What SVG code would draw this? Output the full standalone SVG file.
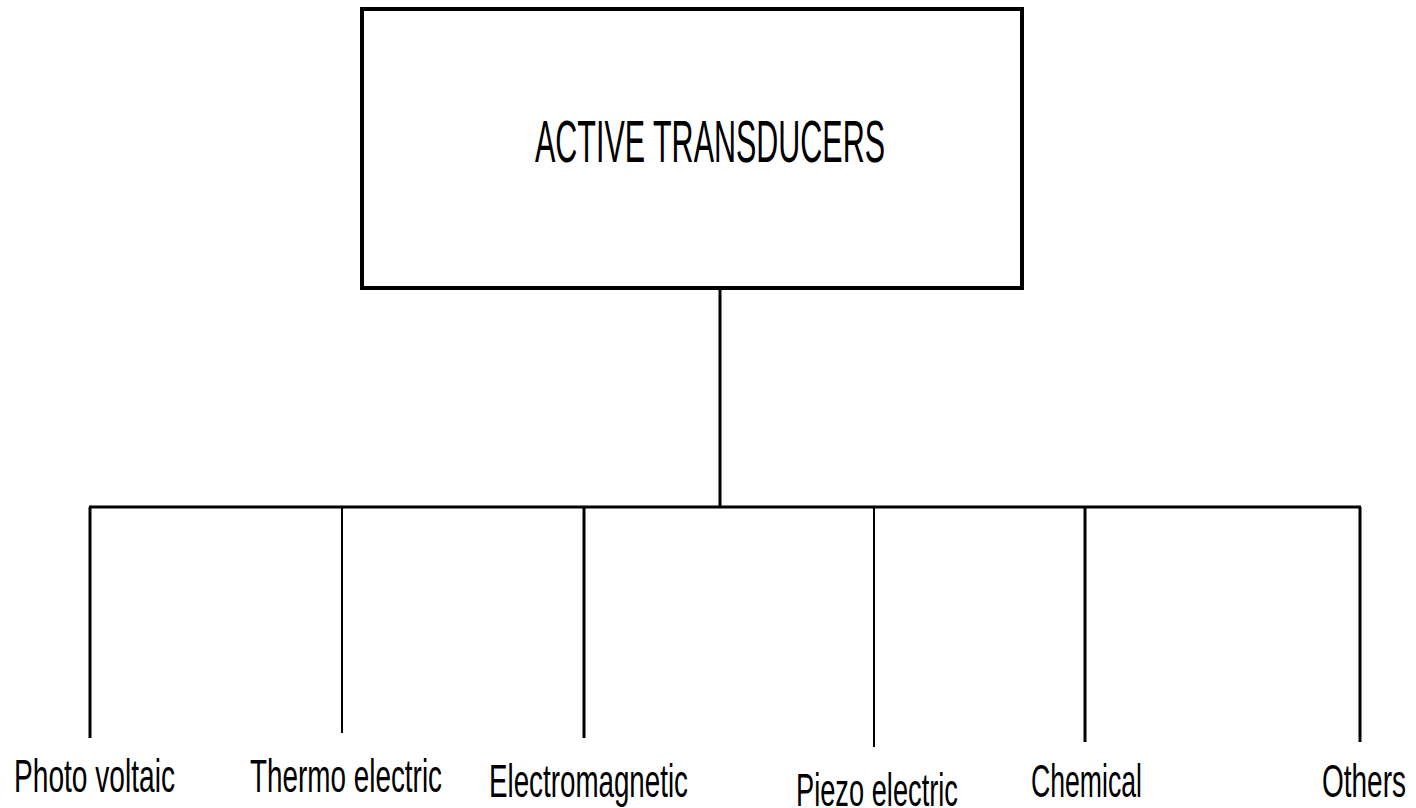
<svg xmlns="http://www.w3.org/2000/svg" width="1416" height="808" viewBox="0 0 1416 808">
<style>
  .box { fill: #ffffff; stroke: #000000; stroke-width: 4; }
  .ln { stroke: #000000; stroke-width: 3; fill: none; }
  .thin { stroke: #000000; stroke-width: 2; fill: none; }
  .t { font-family: "Liberation Sans", Arial, sans-serif; fill: #000000; }
  .title { font-size: 60px; }
  .lbl { font-size: 46px; }
</style>
<rect width="1416" height="808" fill="#ffffff"/>
<g id="connectors">
  <line class="ln" x1="720" y1="288" x2="720" y2="507"/>
  <line class="ln" x1="89" y1="507" x2="1361" y2="507"/>
  <line class="ln" x1="90" y1="507" x2="90" y2="738"/>
  <line class="thin" x1="342" y1="507" x2="342" y2="733"/>
  <line class="ln" x1="584" y1="507" x2="584" y2="738"/>
  <line class="thin" x1="874" y1="507" x2="874" y2="747"/>
  <line class="ln" x1="1085" y1="507" x2="1085" y2="742"/>
  <line class="ln" x1="1360" y1="507" x2="1360" y2="742"/>
</g>
<g id="active-transducers">
  <rect class="box" x="362" y="9" width="660" height="279"/>
  <text class="t title" x="535" y="162" textLength="350" lengthAdjust="spacingAndGlyphs">ACTIVE TRANSDUCERS</text>
</g>
<g id="photo-voltaic">
  <text class="t lbl" x="14" y="792" textLength="161" lengthAdjust="spacingAndGlyphs">Photo voltaic</text>
</g>
<g id="thermo-electric">
  <text class="t lbl" x="250" y="792" textLength="192" lengthAdjust="spacingAndGlyphs">Thermo electric</text>
</g>
<g id="electromagnetic">
  <text class="t lbl" x="489" y="797" textLength="199" lengthAdjust="spacingAndGlyphs">Electromagnetic</text>
</g>
<g id="piezo-electric">
  <text class="t lbl" x="796" y="806" textLength="162" lengthAdjust="spacingAndGlyphs">Piezo electric</text>
</g>
<g id="chemical">
  <text class="t lbl" x="1031" y="797" textLength="111" lengthAdjust="spacingAndGlyphs">Chemical</text>
</g>
<g id="others">
  <text class="t lbl" x="1322" y="797" textLength="84" lengthAdjust="spacingAndGlyphs">Others</text>
</g>
</svg>
